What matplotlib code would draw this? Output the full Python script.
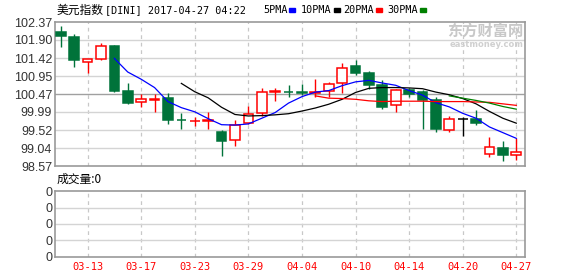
import matplotlib
matplotlib.use("Agg")
import matplotlib.pyplot as plt
from matplotlib.patches import Rectangle
import numpy as np

W, H = 578, 276

dates = ["03-09", "03-10", "03-13", "03-14", "03-15", "03-16", "03-17",
         "03-20", "03-21", "03-22", "03-23", "03-24", "03-27", "03-28",
         "03-29", "03-30", "03-31", "04-03", "04-04", "04-05", "04-06",
         "04-07", "04-10", "04-11", "04-12", "04-13", "04-14", "04-17",
         "04-18", "04-19", "04-20", "04-21", "04-24", "04-25", "04-27"]

opens = [102.11, 101.97, 101.31, 101.40, 101.74, 100.55, 100.25, 100.32,
         100.36, 99.79, 99.76, 99.77, 99.47, 99.25, 99.70, 99.96, 100.53,
         100.53, 100.51, 100.50, 100.54, 100.75, 101.21, 101.02, 100.70,
         100.17, 100.58, 100.53, 100.30, 99.53, 99.81, 99.82, 98.88, 99.05,
         98.85]
highs = [102.27, 102.05, 101.40, 101.81, 101.76, 100.77, 100.47, 100.47,
         100.50, 99.96, 99.87, 100.00, 99.52, 99.78, 100.15, 100.62, 100.64,
         100.70, 100.73, 100.86, 100.79, 101.28, 101.37, 101.08, 100.84,
         100.60, 100.62, 100.58, 100.38, 99.89, 99.86, 100.05, 99.34, 99.22,
         99.32]
lows = [101.72, 101.19, 101.02, 101.36, 100.51, 100.21, 100.13, 100.00,
        99.67, 99.54, 99.63, 99.54, 98.84, 99.11, 99.69, 99.90, 100.28,
        100.38, 100.44, 100.38, 100.40, 100.50, 100.96, 100.60, 100.08,
        100.00, 100.38, 99.54, 99.48, 99.48, 99.37, 99.66, 98.82, 98.69,
        98.72]
closes = [102.01, 101.38, 101.39, 101.73, 100.56, 100.24, 100.34, 100.33,
          99.78, 99.78, 99.77, 99.78, 99.24, 99.66, 99.93, 100.52, 100.54,
          100.52, 100.50, 100.53, 100.73, 101.15, 101.03, 100.72, 100.13,
          100.57, 100.48, 100.31, 99.54, 99.81, 99.81, 99.71, 99.06, 98.85,
          98.93]

# moving averages, starting at their first visible day
ma5_start = 4
ma5 = [101.41, 101.05, 100.86, 100.64, 100.27, 100.11, 100.00, 99.82,
       99.66, 99.65, 99.68, 99.83, 99.98, 100.23, 100.40, 100.52, 100.56,
       100.69, 100.79, 100.83, 100.76, 100.70, 100.56, 100.44, 100.24,
       100.13, 99.96, 99.83, 99.60, 99.45, 99.30]
ma10_start = 9
ma10 = [100.75, 100.53, 100.37, 100.12, 99.93, 99.89, 99.90, 99.92, 99.95,
        100.02, 100.10, 100.20, 100.33, 100.51, 100.62, 100.64, 100.64,
        100.63, 100.61, 100.52, 100.45, 100.35, 100.21, 100.01, 99.83, 99.70]
ma20_start = 19
ma20 = [100.42, 100.36, 100.35, 100.33, 100.29, 100.27, 100.28, 100.28,
        100.28, 100.27, 100.27, 100.27, 100.26, 100.25, 100.21, 100.17]
ma30_start = 29
ma30 = [100.42, 100.36, 100.30, 100.23, 100.14, 100.07]

ytick_labels = ["98.57", "99.04", "99.52", "99.99", "100.47", "100.95",
                "101.42", "101.90", "102.37"]
xtick_labels = ["03-13", "03-17", "03-23", "03-29", "04-04", "04-10",
                "04-14", "04-20", "04-27"]
vol_labels = ["0", "0", "0", "0", "0"]

RED = "#ff0000"
GREEN = "#00733a"
FRAME = "#999999"
GRID = "#d4d4d4"

fig = plt.figure(figsize=(W / 100, H / 100), dpi=100)
fig.patch.set_facecolor("white")


def fx(px):
    return px / W


def fy(py):
    return 1 - py / H


ax = fig.add_axes([fx(55), fy(166), fx(525) - fx(55), fy(22) - fy(166)])
vax = fig.add_axes([fx(55), fy(256.5), fx(525) - fx(55), fy(191.3) - fy(256.5)])

x = np.arange(len(dates))
xt = [dates.index(d) for d in xtick_labels]
ymin, ymax = float(ytick_labels[0]), float(ytick_labels[-1])
yt = np.linspace(ymin, ymax, len(ytick_labels))

for a in (ax, vax):
    a.set_xlim(-0.43, len(dates) - 1 + 0.65)
    for s in a.spines.values():
        s.set_color(FRAME)
        s.set_linewidth(1.2)
    a.tick_params(length=0)
    for t in xt:
        a.axvline(t, color="#c8c8c8", lw=0.9, ls=(0, (3, 3)), zorder=0)

# price panel
ax.set_ylim(ymin, ymax)
ax.set_yticks(yt)
ax.set_yticklabels(ytick_labels, fontsize=9, color="#333333", family="Liberation Sans")
ax.tick_params(axis="y", pad=2)
ax.set_xticks([])
for i, v in enumerate(yt[1:-1]):
    c = "#a0a0a0" if i == 3 else GRID
    ax.axhline(v, color=c, lw=1.0, zorder=0)

for i in range(len(dates)):
    o, h, l, c = opens[i], highs[i], lows[i], closes[i]
    if c > o:
        col, face = RED, "white"
    elif c < o:
        col, face = GREEN, GREEN
    else:
        col, face = "black", "black"
    ax.vlines(x[i], l, h, color=col, lw=1.0, zorder=2)
    ax.bar(x[i], abs(c - o), bottom=min(o, c), width=0.72,
           color=face, edgecolor=col, linewidth=1.1, zorder=3)

ax.plot(x[ma5_start:], ma5, color="#0000ff", lw=0.9, zorder=4)
ax.plot(x[ma10_start:], ma10, color="black", lw=0.9, zorder=4)
ax.plot(x[ma20_start:], ma20, color="#ff0000", lw=0.9, zorder=4)
ax.plot(x[ma30_start:], ma30, color="#008000", lw=0.9, zorder=4)

# volume panel
vax.set_ylim(0, 4)
vax.set_yticks(np.arange(len(vol_labels)))
vax.set_yticklabels(vol_labels, fontsize=9, color="#333333", family="Liberation Sans")
vax.tick_params(axis="y", pad=2)
for v in range(1, 4):
    vax.axhline(v, color=GRID, lw=1.0, zorder=0)
vax.set_xticks(xt)
vax.set_xticklabels(xtick_labels, fontsize=7.5, color=RED, family="DejaVu Sans Mono")
vax.tick_params(axis="x", pad=4)

# header
cjk = ["Noto Sans CJK SC", "DejaVu Sans"]
fig.text(fx(57), fy(10), "美元指数", fontsize=8.5, family=cjk, va="center", color="black")
fig.text(fx(105), fy(10), "[DINI] 2017-04-27 04:22", fontsize=7.3,
         family="DejaVu Sans Mono", va="center", color="black")
legend = [("5PMA", 263, "#0000ff"), ("10PMA", 301, "black"),
          ("20PMA", 343, "#ff0000"), ("30PMA", 387, "#008000")]
for name, px, col in legend:
    fig.text(fx(px), fy(10), name, fontsize=7.3, family="DejaVu Sans Mono",
             va="center", color="black")
    end = px + 6.1 * len(name) + 2
    fig.add_artist(Rectangle((fx(end), fy(11.5)), fx(6), 3 / H,
                             transform=fig.transFigure, color=col))

fig.text(fx(57), fy(179), "成交量:0", fontsize=8.5, family=cjk, va="center", color="black")

# watermark
fig.text(fx(523), fy(31), "东方财富网", fontsize=11, family=cjk, weight="bold",
         ha="right", va="center", color="#c8c8c8", zorder=1)
fig.text(fx(523), fy(44.5), "eastmoney.com", fontsize=6, family="DejaVu Sans",
         weight="bold", ha="right", va="center", color="#d0d0d0", zorder=1)

fig.savefig("out.png", dpi=100)
